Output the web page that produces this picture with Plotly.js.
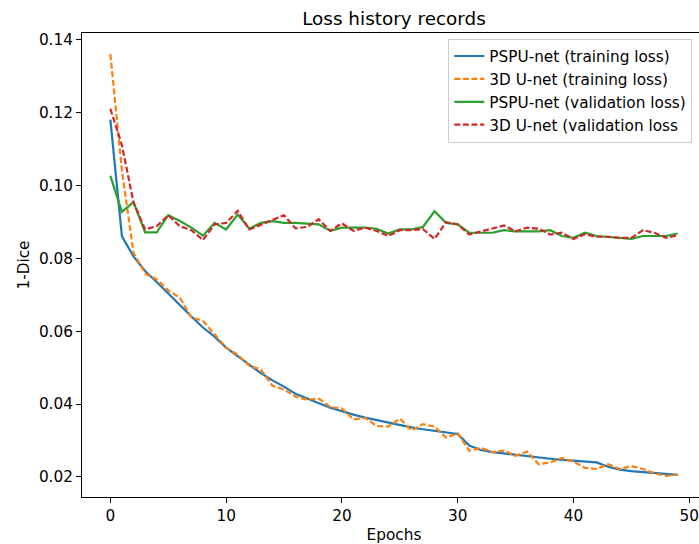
<!DOCTYPE html>
<html>
<head>
<meta charset="utf-8">
<script src="https://cdn.plot.ly/plotly-3.0.1.min.js"></script>
<style>
html, body { margin: 0; padding: 0; overflow: hidden; background: #fff; }
#chart { width: 710px; height: 544px; }
</style>
</head>
<body>
<div id="chart"></div>
<script>
const epochs = Array.from({length: 50}, (_, i) => i);

const pspuTrain = [0.1180, 0.0860, 0.0805, 0.0765, 0.0735, 0.0703, 0.0672, 0.0640, 0.0610, 0.0585,
  0.0555, 0.0532, 0.0508, 0.0485, 0.0465, 0.0448, 0.0428, 0.0414, 0.0402, 0.0390,
  0.0380, 0.0371, 0.0363, 0.0356, 0.0350, 0.0343, 0.0336, 0.0331, 0.0326, 0.0322,
  0.0318, 0.0286, 0.0274, 0.0268, 0.0264, 0.0260, 0.0256, 0.0253, 0.0250, 0.0247,
  0.0245, 0.0243, 0.0240, 0.0228, 0.0220, 0.0216, 0.0213, 0.0210, 0.0208, 0.0206];

const unetTrain = [0.1360, 0.1040, 0.0815, 0.0758, 0.0742, 0.0712, 0.0692, 0.0638, 0.0628, 0.0590,
  0.0555, 0.0535, 0.0505, 0.0495, 0.0450, 0.0440, 0.0420, 0.0412, 0.0415, 0.0392,
  0.0388, 0.0358, 0.0362, 0.0340, 0.0338, 0.0360, 0.0328, 0.0345, 0.0338, 0.0308,
  0.0320, 0.0272, 0.0280, 0.0268, 0.0272, 0.0258, 0.0270, 0.0235, 0.0240, 0.0252,
  0.0242, 0.0225, 0.0222, 0.0235, 0.0222, 0.0230, 0.0222, 0.0210, 0.0203, 0.0207];

const pspuVal = [0.1026, 0.0927, 0.0954, 0.0871, 0.0871, 0.0918, 0.0902, 0.0884, 0.0862, 0.0897,
  0.0879, 0.0920, 0.0881, 0.0897, 0.0902, 0.0897, 0.0897, 0.0895, 0.0893, 0.0875,
  0.0884, 0.0884, 0.0884, 0.0881, 0.0868, 0.0879, 0.0879, 0.0886, 0.0929, 0.0897,
  0.0893, 0.0870, 0.0870, 0.0870, 0.0877, 0.0874, 0.0874, 0.0874, 0.0877, 0.0861,
  0.0856, 0.0870, 0.0861, 0.0859, 0.0856, 0.0853, 0.0861, 0.0861, 0.0861, 0.0868];

const unetVal = [0.1210, 0.1110, 0.0953, 0.0879, 0.0888, 0.0918, 0.0888, 0.0877, 0.0850, 0.0893,
  0.0897, 0.0930, 0.0879, 0.0893, 0.0905, 0.0918, 0.0882, 0.0886, 0.0907, 0.0875,
  0.0896, 0.0875, 0.0884, 0.0875, 0.0861, 0.0877, 0.0877, 0.0880, 0.0853, 0.0899,
  0.0893, 0.0865, 0.0874, 0.0881, 0.0890, 0.0874, 0.0884, 0.0881, 0.0865, 0.0870,
  0.0853, 0.0866, 0.0859, 0.0859, 0.0856, 0.0856, 0.0877, 0.0870, 0.0856, 0.0863];

const seriesNames = ["PSPU-net (training loss)", "3D U-net (training loss)",
  "PSPU-net (validation loss)", "3D U-net (validation loss"];
const seriesColors = ["#1f77b4", "#ff7f0e", "#2ca02c", "#d62728"];
const seriesDash = ["solid", "6px,2.6px", "solid", "6px,2.6px"];
const seriesData = [pspuTrain, unetTrain, pspuVal, unetVal];

const xTicks = [0, 10, 20, 30, 40, 50];
const yTicks = [0.02, 0.04, 0.06, 0.08, 0.10, 0.12, 0.14];

const FONT = "DejaVu Sans, Verdana, sans-serif";
const FS = 15.3;

const traces = seriesData.map((d, i) => ({
  x: epochs,
  y: d,
  type: "scatter",
  mode: "lines",
  name: seriesNames[i],
  legendgroup: "g" + i,
  line: { color: seriesColors[i], width: 2.2, dash: seriesDash[i] }
}));

const layout = {
  width: 710,
  height: 544,
  margin: { l: 82, r: 4, t: 33, b: 47 },
  paper_bgcolor: "#ffffff",
  plot_bgcolor: "#ffffff",
  font: { family: FONT, size: FS, color: "#000000" },
  title: {
    text: "Loss history records",
    font: { family: FONT, size: 18.4, color: "#000000" },
    x: 0.5, xref: "paper", xanchor: "center",
    y: 1, yref: "paper", yanchor: "bottom", pad: { b: 8 }
  },
  showlegend: true,
  legend: {
    x: 0.587, y: 0.988, xanchor: "left", yanchor: "top",
    bgcolor: "rgba(255,255,255,0.8)",
    bordercolor: "#cccccc", borderwidth: 1,
    font: { family: FONT, size: FS, color: "#000000" },
    tracegroupgap: 0,
    itemwidth: 30
  },
  xaxis: {
    range: [-2.45, 51.45],
    tickmode: "array", tickvals: xTicks, ticktext: xTicks.map(String),
    showgrid: false, zeroline: false,
    showline: true, mirror: true, linecolor: "#000000", linewidth: 1,
    ticks: "outside", ticklen: 5, tickwidth: 1, tickcolor: "#000000",
    tickfont: { family: FONT, size: FS, color: "#000000" },
    title: { text: "Epochs", font: { family: FONT, size: FS, color: "#000000" }, standoff: 10 },
    automargin: false
  },
  yaxis: {
    range: [0.01451, 0.14179],
    tickmode: "array", tickvals: yTicks, ticktext: yTicks.map(v => v.toFixed(2)),
    showgrid: false, zeroline: false,
    showline: true, mirror: true, linecolor: "#000000", linewidth: 1,
    ticks: "outside", ticklen: 5, tickwidth: 1, tickcolor: "#000000",
    tickfont: { family: FONT, size: FS, color: "#000000" },
    title: { text: "1-Dice", font: { family: FONT, size: FS, color: "#000000" }, standoff: 5 },
    automargin: false
  }
};

Plotly.newPlot("chart", traces, layout, { displayModeBar: false, staticPlot: true });
</script>
</body>
</html>
